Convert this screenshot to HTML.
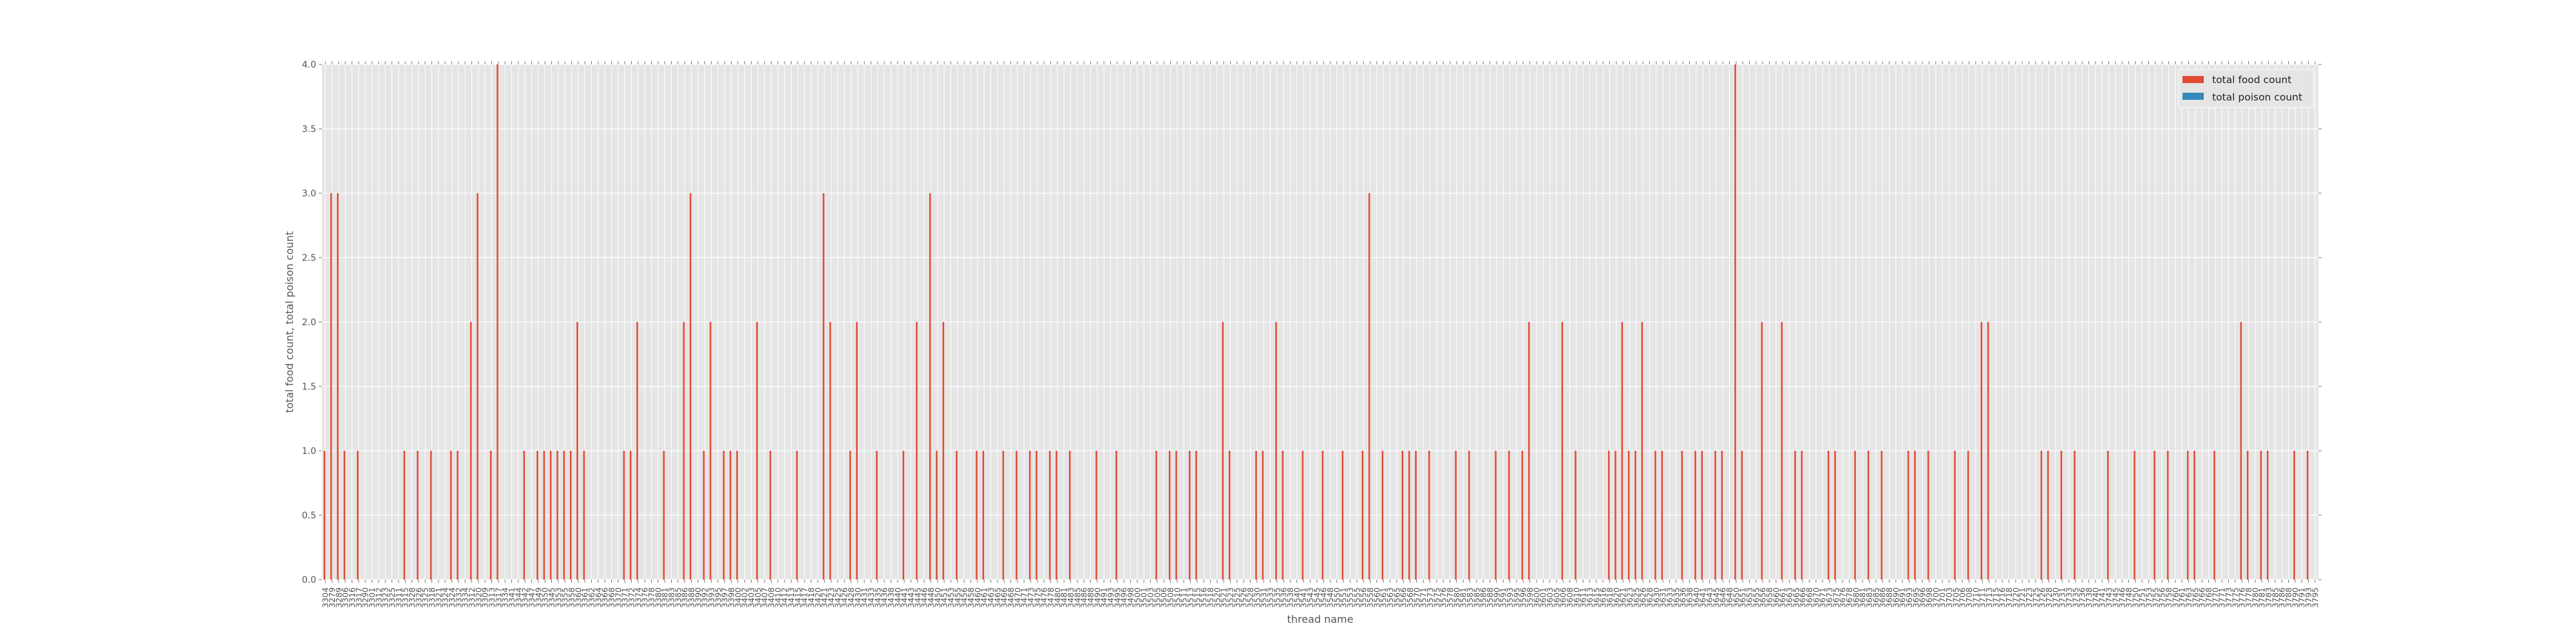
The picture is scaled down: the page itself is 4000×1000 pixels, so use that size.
<!DOCTYPE html>
<html><head><meta charset="utf-8"><style>
html,body{margin:0;padding:0;background:#fff;}
svg{display:block;font-family:"DejaVu Sans","Liberation Sans",sans-serif;}
</style></head><body>
<svg id="chart" width="4000" height="1000" viewBox="0 0 4000 1000" xmlns="http://www.w3.org/2000/svg">
<rect x="500" y="100" width="3100" height="800" fill="#E5E5E5"/>
<g id="grid"></g>
<g id="bars"></g>
<g id="yaxis"></g>
<g id="xaxis"></g>
<text x="2050" y="967" font-size="16" fill="#555" text-anchor="middle">thread name</text>
<text transform="translate(455,500) rotate(-90)" font-size="16" fill="#555" text-anchor="middle">total food count, total poison count</text>
<g>
<rect x="3383" y="108" width="209" height="59" fill="#E5E5E5" stroke="#fff" stroke-width="1"/>
<rect x="3389" y="118" width="33" height="11" fill="#E24A33"/>
<text x="3435" y="129" font-size="15.5" fill="#222">total food count</text>
<rect x="3389" y="144" width="33" height="11" fill="#348ABD"/>
<text x="3435" y="156" font-size="15.5" fill="#222">total poison count</text>
</g>
</svg>
<script>
const categories = ("3304 3279 3289 3306 3316 3317 3290 3301 3312 3323 3325 3311 3315 3328 3326 3325 3318 3321 3324 3324 3332 3334 3312 3320 3309 3313 3317 3334 3341 3344 3342 3347 3349 3350 3345 3353 3355 3358 3360 3361 " +
"3362 3364 3366 3368 3370 3371 3372 3374 3376 3378 3380 3381 3383 3385 3386 3388 3390 3392 3393 3395 3397 3398 3400 3402 3403 3405 3407 3408 3410 3412 3413 3415 3417 3418 3420 3421 3423 3425 3426 3428 " +
"3430 3431 3433 3435 3436 3438 3440 3441 3443 3445 3446 3448 3450 3451 3453 3455 3456 3458 3460 3461 3463 3465 3466 3468 3470 3471 3473 3475 3476 3478 3480 3481 3483 3485 3486 3488 3490 3491 3493 3495 " +
"3496 3498 3500 3501 3503 3505 3506 3508 3510 3511 3513 3515 3516 3518 3520 3521 3523 3525 3526 3528 3530 3531 3533 3535 3536 3538 3540 3541 3543 3545 3546 3548 3550 3551 3553 3555 3556 3558 3560 3561 " +
"3563 3565 3566 3568 3570 3571 3573 3575 3576 3578 3580 3581 3583 3585 3586 3588 3590 3591 3593 3595 3596 3598 3600 3601 3603 3605 3606 3608 3610 3611 3613 3615 3616 3618 3620 3621 3623 3625 3626 3628 " +
"3630 3631 3633 3635 3636 3638 3640 3641 3643 3645 3646 3648 3650 3651 3653 3655 3656 3658 3660 3661 3663 3665 3666 3668 3670 3671 3673 3675 3676 3678 3680 3681 3683 3685 3686 3688 3690 3691 3693 3695 " +
"3696 3698 3700 3701 3703 3705 3706 3708 3710 3711 3713 3715 3716 3718 3720 3721 3723 3725 3726 3728 3730 3731 3733 3735 3736 3738 3740 3741 3743 3745 3746 3748 3750 3751 3753 3755 3756 3758 3760 3761 " +
"3763 3765 3766 3768 3770 3771 3773 3775 3776 3778 3780 3781 3783 3785 3786 3788 3790 3791 3793 3795").split(" ");
const foodCounts = [
1,3,3,1,0,1,0,0,0,0, 0,0,1,0,1,0,1,0,0,1, 1,0,2,3,0,1,4,0,0,0, 1,0,1,1,1,1,1,1,2,1,
0,0,0,0,0,1,1,2,0,0, 0,1,0,0,2,3,0,1,2,0, 1,1,1,0,0,2,0,1,0,0, 0,1,0,0,0,3,2,0,0,1,
2,0,0,1,0,0,0,1,0,2, 0,3,1,2,0,1,0,0,1,1, 0,0,1,0,1,0,1,1,0,1, 1,0,1,0,0,0,1,0,0,1,
0,0,0,0,0,1,0,1,1,0, 1,1,0,0,0,2,1,0,0,0, 1,1,0,2,1,0,0,1,0,0, 1,0,0,1,0,0,1,3,0,1,
0,0,1,1,1,0,1,0,0,0, 1,0,1,0,0,0,1,0,1,0, 1,2,0,0,0,0,2,0,1,0, 0,0,0,1,1,2,1,1,2,0,
1,1,0,0,1,0,1,1,0,1, 1,0,4,1,0,0,2,0,0,2, 0,1,1,0,0,0,1,1,0,0, 1,0,1,0,1,0,0,0,1,1,
0,1,0,0,0,1,0,1,0,2, 2,0,0,0,0,0,0,0,1,1, 0,1,0,1,0,0,0,0,1,0, 0,0,1,0,0,1,0,1,0,0,
1,1,0,0,1,0,0,0,2,1, 0,1,1,0,0,0,1,0,1,0];
const poisonCounts = [
0,0,0,0,0,0,0,0,0,0, 0,0,0,0,0,0,0,0,0,0, 0,0,0,0,0,0,0,0,0,0, 0,0,0,0,0,0,0,0,0,0,
0,0,0,0,0,0,0,0,0,0, 0,0,0,0,0,0,0,0,0,0, 0,0,0,0,0,0,0,0,0,0, 0,0,0,0,0,0,0,0,0,0,
0,0,0,0,0,0,0,0,0,0, 0,0,0,0,0,0,0,0,0,0, 0,0,0,0,0,0,0,0,0,0, 0,0,0,0,0,0,0,0,0,0,
0,0,0,0,0,0,0,0,0,0, 0,0,0,0,0,0,0,0,0,0, 0,0,0,0,0,0,0,0,0,0, 0,0,0,0,0,0,0,0,0,0,
0,0,0,0,0,0,0,0,0,0, 0,0,0,0,0,0,0,0,0,0, 0,0,0,0,0,0,0,0,0,0, 0,0,0,0,0,0,0,0,0,0,
0,0,0,0,0,0,0,0,0,0, 0,0,0,0,0,0,0,0,0,0, 0,0,0,0,0,0,0,0,0,0, 0,0,0,0,0,0,0,0,0,0,
0,0,0,0,0,0,0,0,0,0, 0,0,0,0,0,0,0,0,0,0, 0,0,0,0,0,0,0,0,0,0, 0,0,0,0,0,0,0,0,0,0,
0,0,0,0,0,0,0,0,0,0, 0,0,0,0,0,0,0,0,0,0];
const yTicks = [0, 0.5, 1, 1.5, 2, 2.5, 3, 3.5, 4];
const yTickLabels = ["0.0","0.5","1.0","1.5","2.0","2.5","3.0","3.5","4.0"];

const NS = "http://www.w3.org/2000/svg";
const L = 500, R = 3600, T = 100, B = 900, YMAX = 4;
const n = categories.length;
const step = (R - L) / n;
function xPos(i){ return L + (i + 0.5) * step; }
function yPos(v){ return B - (v / YMAX) * (B - T); }
function mk(tag, attrs, parent){ const e = document.createElementNS(NS, tag); for (const k in attrs) e.setAttribute(k, attrs[k]); parent.appendChild(e); return e; }

const grid = document.getElementById("grid");
const bars = document.getElementById("bars");
const yaxis = document.getElementById("yaxis");
const xaxis = document.getElementById("xaxis");

for (let i = 0; i < n; i++) {
  const x = xPos(i);
  const gl = mk("line", {x1:x, x2:x, y1:T, y2:B, stroke:"#fff", "stroke-width":1}, grid);
  
  
  const t1 = mk("line", {x1:x, x2:x, y1:B, y2:B+5, stroke:"#777", "stroke-width":1}, xaxis);
  
  
  const t2 = mk("line", {x1:x, x2:x, y1:T-5, y2:T, stroke:"#777", "stroke-width":1}, xaxis);
  
  
  const lab = mk("text", {transform:"translate(" + (x + 4.5) + ",912) rotate(-90)", "font-size":12.5, fill:"#555", "text-anchor":"end"}, xaxis);
  lab.textContent = categories[i];
  
  
}
yTicks.forEach((v, k) => {
  const y = yPos(v);
  const gl = mk("line", {x1:L, x2:R, y1:y, y2:y, stroke:"#fff", "stroke-width":1.2}, grid);
  
  
  const t = mk("line", {x1:L-5, x2:L, y1:y, y2:y, stroke:"#777", "stroke-width":1}, yaxis);
  
  
  const t2 = mk("line", {x1:R, x2:R+5, y1:y, y2:y, stroke:"#777", "stroke-width":1}, yaxis);
  
  
  const lab = mk("text", {x:L-9, y:y+5, "font-size":14, fill:"#555", "text-anchor":"end"}, yaxis);
  lab.textContent = yTickLabels[k];
  
  
});
const bw = step * 0.25;
for (let i = 0; i < n; i++) {
  const cx = xPos(i);
  if (foodCounts[i] > 0) {
    const r = mk("rect", {x:cx - bw - 0.0, y:yPos(foodCounts[i]), width:bw, height:B - yPos(foodCounts[i]), fill:"#E24A33"}, bars);
    
    
  }
  if (poisonCounts[i] > 0) {
    const r = mk("rect", {x:cx, y:yPos(poisonCounts[i]), width:bw, height:B - yPos(poisonCounts[i]), fill:"#348ABD"}, bars);
    
    
  }
}
</script>
</body></html>
